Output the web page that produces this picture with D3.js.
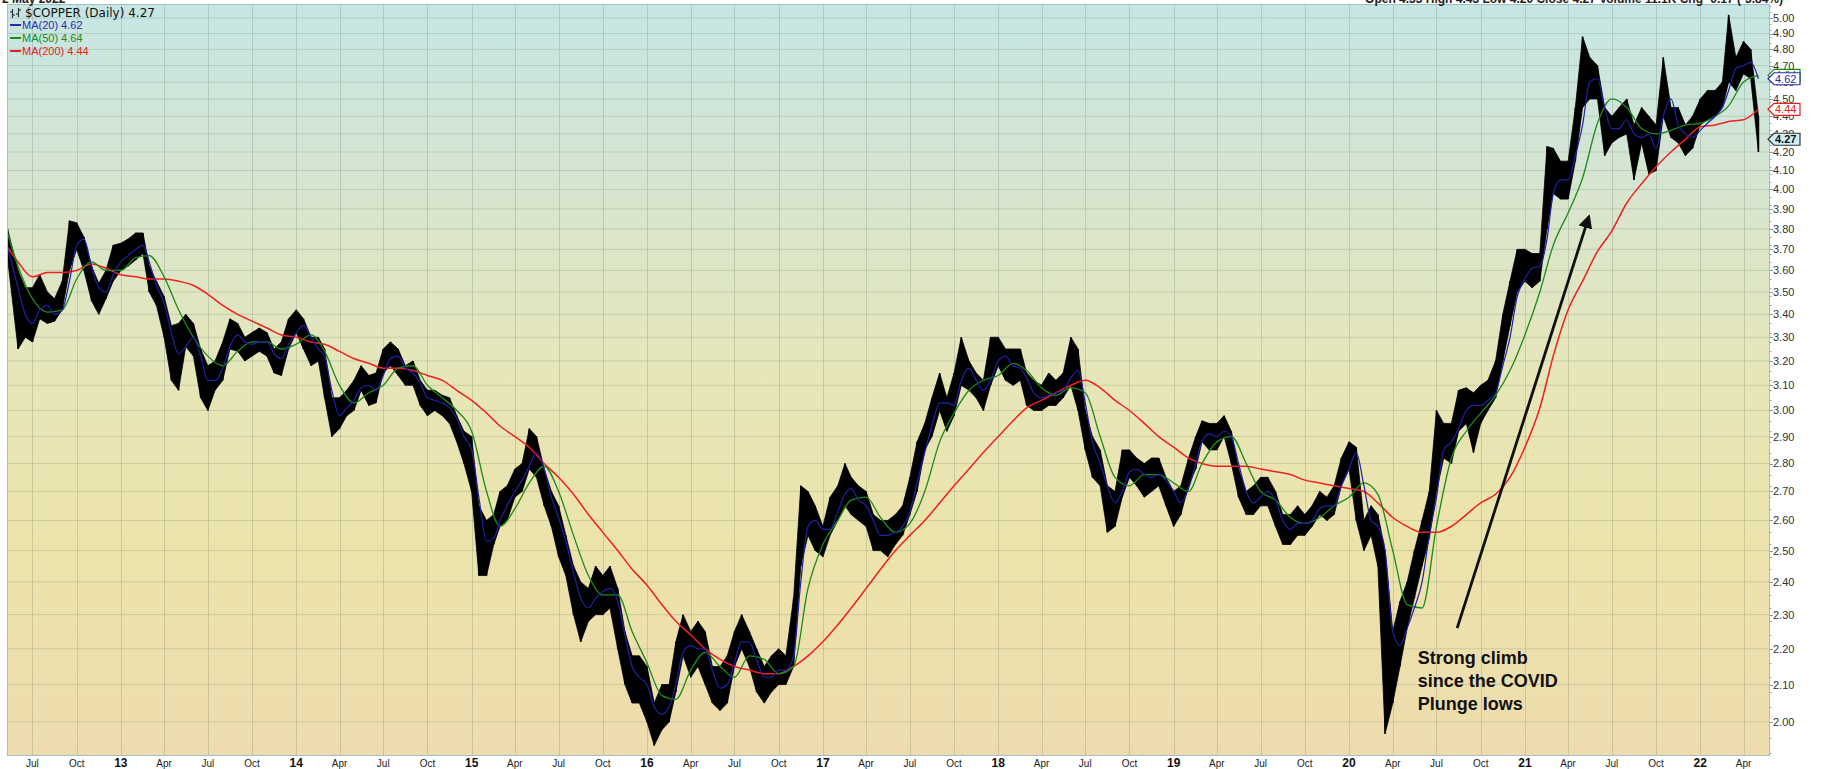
<!DOCTYPE html>
<meta charset="utf-8">
<html>
<head>
<title>$COPPER (Daily)</title>
<script src="https://d3js.org/d3.v7.min.js"></script>
<style>
body { margin: 0; background: #fff; }
svg { display: block; }
.ylab { font: 11px "Liberation Sans", Arial, sans-serif; fill: #333; }
.xlab { font: 10px "Liberation Sans", Arial, sans-serif; fill: #222; }
.xlab.year { font-weight: bold; font-size: 12px; fill: #111; }
.title { font: 12px "DejaVu Sans", Verdana, sans-serif; fill: #111; }
.legend { font: 11px "Liberation Sans", Arial, sans-serif; }
.note { font: bold 18px "Liberation Sans", Arial, sans-serif; fill: #111; }
.head { font: bold 12px "Liberation Sans", Arial, sans-serif; fill: #222; }
</style>
</head>
<body>
<svg width="1827" height="769"></svg>
<script>

// ---- data (half-month samples: high / low of the bars) ----
var halfDates = [
  "2012-05-10","2012-06-01","2012-06-16","2012-07-01","2012-07-16","2012-08-01","2012-08-16","2012-09-01","2012-09-16","2012-10-01","2012-10-16","2012-11-01","2012-11-16","2012-12-01","2012-12-16",
  "2013-01-01","2013-01-16","2013-02-01","2013-02-16","2013-03-01","2013-03-16","2013-04-01","2013-04-16","2013-05-01","2013-05-16","2013-06-01","2013-06-16","2013-07-01","2013-07-16","2013-08-01","2013-08-16","2013-09-01","2013-09-16","2013-10-01","2013-10-16","2013-11-01","2013-11-16","2013-12-01","2013-12-16",
  "2014-01-01","2014-01-16","2014-02-01","2014-02-16","2014-03-01","2014-03-16","2014-04-01","2014-04-16","2014-05-01","2014-05-16","2014-06-01","2014-06-16","2014-07-01","2014-07-16","2014-08-01","2014-08-16","2014-09-01","2014-09-16","2014-10-01","2014-10-16","2014-11-01","2014-11-16","2014-12-01","2014-12-16",
  "2015-01-01","2015-01-16","2015-02-01","2015-02-16","2015-03-01","2015-03-16","2015-04-01","2015-04-16","2015-05-01","2015-05-16","2015-06-01","2015-06-16","2015-07-01","2015-07-16","2015-08-01","2015-08-16","2015-09-01","2015-09-16","2015-10-01","2015-10-16","2015-11-01","2015-11-16","2015-12-01","2015-12-16",
  "2016-01-01","2016-01-16","2016-02-01","2016-02-16","2016-03-01","2016-03-16","2016-04-01","2016-04-16","2016-05-01","2016-05-16","2016-06-01","2016-06-16","2016-07-01","2016-07-16","2016-08-01","2016-08-16","2016-09-01","2016-09-16","2016-10-01","2016-10-16","2016-11-01","2016-11-16","2016-12-01","2016-12-16",
  "2017-01-01","2017-01-16","2017-02-01","2017-02-16","2017-03-01","2017-03-16","2017-04-01","2017-04-16","2017-05-01","2017-05-16","2017-06-01","2017-06-16","2017-07-01","2017-07-16","2017-08-01","2017-08-16","2017-09-01","2017-09-16","2017-10-01","2017-10-16","2017-11-01","2017-11-16","2017-12-01","2017-12-16",
  "2018-01-01","2018-01-16","2018-02-01","2018-02-16","2018-03-01","2018-03-16","2018-04-01","2018-04-16","2018-05-01","2018-05-16","2018-06-01","2018-06-16","2018-07-01","2018-07-16","2018-08-01","2018-08-16","2018-09-01","2018-09-16","2018-10-01","2018-10-16","2018-11-01","2018-11-16","2018-12-01","2018-12-16",
  "2019-01-01","2019-01-16","2019-02-01","2019-02-16","2019-03-01","2019-03-16","2019-04-01","2019-04-16","2019-05-01","2019-05-16","2019-06-01","2019-06-16","2019-07-01","2019-07-16","2019-08-01","2019-08-16","2019-09-01","2019-09-16","2019-10-01","2019-10-16","2019-11-01","2019-11-16","2019-12-01","2019-12-16",
  "2020-01-01","2020-01-16","2020-02-01","2020-02-16","2020-03-01","2020-03-16","2020-04-01","2020-04-16","2020-05-01","2020-05-16","2020-06-01","2020-06-16","2020-07-01","2020-07-16","2020-08-01","2020-08-16","2020-09-01","2020-09-16","2020-10-01","2020-10-16","2020-11-01","2020-11-16","2020-12-01","2020-12-16",
  "2021-01-01","2021-01-16","2021-02-01","2021-02-16","2021-03-01","2021-03-16","2021-04-01","2021-04-16","2021-05-01","2021-05-16","2021-06-01","2021-06-16","2021-07-01","2021-07-16","2021-08-01","2021-08-16","2021-09-01","2021-09-16","2021-10-01","2021-10-16","2021-11-01","2021-11-16","2021-12-01","2021-12-16",
  "2022-01-01","2022-01-16","2022-02-01","2022-02-16","2022-03-01","2022-03-16","2022-04-01","2022-04-16","2022-05-02"
];

var priceHigh = [
  3.80,3.60,3.52,3.52,3.58,3.50,3.47,3.55,3.84,3.83,3.76,3.62,3.54,3.60,3.72,
  3.73,3.75,3.78,3.78,3.62,3.55,3.48,3.35,3.36,3.40,3.36,3.25,3.18,3.20,3.28,3.38,3.36,3.30,3.32,3.34,3.32,3.25,3.28,3.38,
  3.42,3.38,3.30,3.30,3.25,3.05,3.05,3.08,3.12,3.18,3.14,3.15,3.25,3.28,3.25,3.18,3.20,3.12,3.08,3.08,3.06,3.05,2.98,2.92,
  2.90,2.65,2.60,2.62,2.70,2.72,2.78,2.80,2.93,2.90,2.78,2.70,2.65,2.55,2.45,2.40,2.38,2.45,2.42,2.45,2.38,2.25,2.18,2.18,
  2.15,2.05,2.10,2.10,2.22,2.30,2.25,2.28,2.25,2.15,2.15,2.18,2.25,2.30,2.25,2.20,2.15,2.18,2.20,2.18,2.35,2.72,2.70,2.65,
  2.58,2.68,2.72,2.80,2.75,2.72,2.70,2.62,2.60,2.60,2.62,2.65,2.75,2.88,2.95,3.05,3.15,3.05,3.15,3.30,3.20,3.15,3.12,3.30,
  3.30,3.25,3.25,3.25,3.15,3.12,3.10,3.15,3.12,3.15,3.30,3.25,3.00,2.90,2.85,2.72,2.70,2.85,2.85,2.82,2.80,2.82,2.82,2.75,
  2.70,2.72,2.82,2.90,2.96,2.95,2.95,2.98,2.92,2.78,2.70,2.72,2.75,2.75,2.70,2.62,2.62,2.65,2.62,2.65,2.70,2.68,2.72,2.82,
  2.88,2.86,2.60,2.65,2.62,2.50,2.25,2.34,2.40,2.50,2.60,2.70,3.00,2.95,2.95,3.08,3.09,3.07,3.10,3.12,3.20,3.40,3.55,3.70,
  3.70,3.68,3.68,4.23,4.22,4.15,4.15,4.45,4.88,4.75,4.70,4.45,4.40,4.45,4.50,4.35,4.45,4.40,4.35,4.75,4.45,4.45,4.35,4.40,
  4.50,4.55,4.55,4.60,5.02,4.75,4.85,4.80,4.40
];

var priceLow = [
  3.66,3.25,3.30,3.28,3.38,3.36,3.37,3.42,3.60,3.70,3.60,3.46,3.40,3.47,3.55,
  3.60,3.62,3.65,3.68,3.50,3.44,3.30,3.12,3.08,3.26,3.22,3.05,3.00,3.08,3.12,3.25,3.24,3.20,3.22,3.24,3.22,3.15,3.14,3.25,
  3.32,3.25,3.18,3.20,3.05,2.90,2.93,2.98,3.00,3.08,3.02,3.03,3.15,3.18,3.14,3.10,3.10,3.02,2.98,3.00,2.98,2.95,2.88,2.80,
  2.70,2.42,2.42,2.52,2.58,2.60,2.68,2.70,2.78,2.75,2.65,2.58,2.48,2.42,2.30,2.22,2.28,2.30,2.30,2.32,2.20,2.10,2.05,2.05,
  2.00,1.94,1.98,2.00,2.08,2.18,2.12,2.15,2.10,2.05,2.03,2.05,2.15,2.20,2.15,2.08,2.05,2.08,2.10,2.10,2.15,2.45,2.55,2.50,
  2.48,2.55,2.60,2.65,2.62,2.60,2.58,2.50,2.50,2.48,2.52,2.55,2.62,2.70,2.85,2.90,3.00,2.92,2.98,3.10,3.08,3.05,3.00,3.10,
  3.18,3.12,3.10,3.12,3.02,3.00,3.00,3.02,3.02,3.05,3.10,3.00,2.85,2.75,2.72,2.56,2.58,2.68,2.75,2.72,2.68,2.70,2.72,2.65,
  2.58,2.62,2.72,2.78,2.88,2.85,2.85,2.90,2.80,2.68,2.62,2.62,2.65,2.65,2.58,2.52,2.52,2.55,2.55,2.58,2.62,2.60,2.62,2.72,
  2.78,2.60,2.50,2.55,2.45,1.97,2.05,2.15,2.26,2.35,2.45,2.54,2.70,2.82,2.80,2.92,2.95,2.84,2.95,3.00,3.05,3.20,3.35,3.50,
  3.55,3.52,3.55,3.80,3.98,3.95,3.95,4.15,4.45,4.50,4.50,4.18,4.25,4.28,4.30,4.05,4.25,4.08,4.10,4.40,4.28,4.25,4.18,4.22,
  4.35,4.38,4.40,4.45,4.60,4.55,4.65,4.62,4.20
];

var ma20 = [
  3.71,3.52,3.40,3.36,3.42,3.44,3.40,3.42,3.55,3.72,3.75,3.62,3.52,3.50,3.58,
  3.64,3.67,3.70,3.72,3.64,3.53,3.45,3.32,3.23,3.26,3.30,3.22,3.12,3.12,3.17,3.26,3.31,3.28,3.27,3.28,3.28,3.23,3.21,3.27,
  3.32,3.35,3.30,3.25,3.22,3.08,2.98,3.01,3.04,3.09,3.10,3.08,3.14,3.21,3.22,3.17,3.15,3.11,3.05,3.04,3.03,3.01,2.97,2.90,
  2.85,2.68,2.53,2.54,2.60,2.65,2.70,2.74,2.79,2.84,2.78,2.68,2.61,2.53,2.43,2.35,2.32,2.35,2.37,2.38,2.34,2.24,2.15,2.12,
  2.10,2.04,2.02,2.04,2.10,2.19,2.21,2.20,2.20,2.14,2.09,2.10,2.16,2.22,2.22,2.17,2.12,2.12,2.14,2.14,2.18,2.40,2.58,2.60,
  2.57,2.57,2.63,2.69,2.71,2.67,2.65,2.60,2.55,2.55,2.56,2.58,2.63,2.73,2.84,2.94,3.03,3.03,3.02,3.12,3.17,3.12,3.08,3.12,
  3.20,3.22,3.18,3.17,3.13,3.07,3.05,3.06,3.07,3.08,3.13,3.16,3.03,2.88,2.80,2.72,2.66,2.70,2.77,2.78,2.76,2.75,2.76,2.74,
  2.70,2.66,2.71,2.80,2.88,2.91,2.90,2.92,2.90,2.80,2.70,2.66,2.68,2.70,2.67,2.60,2.57,2.59,2.59,2.60,2.64,2.65,2.65,2.72,
  2.78,2.84,2.72,2.60,2.58,2.50,2.25,2.21,2.26,2.32,2.40,2.55,2.68,2.85,2.88,2.93,3.00,3.02,3.02,3.04,3.07,3.18,3.30,3.48,
  3.56,3.61,3.62,3.75,3.98,4.05,4.05,4.18,4.35,4.60,4.62,4.45,4.33,4.33,4.38,4.30,4.28,4.30,4.22,4.40,4.50,4.35,4.30,4.28,
  4.32,4.36,4.40,4.45,4.55,4.68,4.70,4.72,4.62
];

// month samples for the slower averages
var monthDates = [
  "2012-05-10","2012-06-01","2012-07-01","2012-08-01","2012-09-01","2012-10-01","2012-11-01","2012-12-01",
  "2013-01-01","2013-02-01","2013-03-01","2013-04-01","2013-05-01","2013-06-01","2013-07-01","2013-08-01","2013-09-01","2013-10-01","2013-11-01","2013-12-01",
  "2014-01-01","2014-02-01","2014-03-01","2014-04-01","2014-05-01","2014-06-01","2014-07-01","2014-08-01","2014-09-01","2014-10-01","2014-11-01","2014-12-01",
  "2015-01-01","2015-02-01","2015-03-01","2015-04-01","2015-05-01","2015-06-01","2015-07-01","2015-08-01","2015-09-01","2015-10-01","2015-11-01","2015-12-01",
  "2016-01-01","2016-02-01","2016-03-01","2016-04-01","2016-05-01","2016-06-01","2016-07-01","2016-08-01","2016-09-01","2016-10-01","2016-11-01","2016-12-01",
  "2017-01-01","2017-02-01","2017-03-01","2017-04-01","2017-05-01","2017-06-01","2017-07-01","2017-08-01","2017-09-01","2017-10-01","2017-11-01","2017-12-01",
  "2018-01-01","2018-02-01","2018-03-01","2018-04-01","2018-05-01","2018-06-01","2018-07-01","2018-08-01","2018-09-01","2018-10-01","2018-11-01","2018-12-01",
  "2019-01-01","2019-02-01","2019-03-01","2019-04-01","2019-05-01","2019-06-01","2019-07-01","2019-08-01","2019-09-01","2019-10-01","2019-11-01","2019-12-01",
  "2020-01-01","2020-02-01","2020-03-01","2020-04-01","2020-05-01","2020-06-01","2020-07-01","2020-08-01","2020-09-01","2020-10-01","2020-11-01","2020-12-01",
  "2021-01-01","2021-02-01","2021-03-01","2021-04-01","2021-05-01","2021-06-01","2021-07-01","2021-08-01","2021-09-01","2021-10-01","2021-11-01","2021-12-01",
  "2022-01-01","2022-02-01","2022-03-01","2022-04-01","2022-05-02"
];

var ma50 = [
  3.78,3.62,3.47,3.41,3.42,3.56,3.64,3.60,
  3.60,3.66,3.67,3.57,3.42,3.30,3.22,3.18,3.24,3.28,3.28,3.25,
  3.27,3.31,3.24,3.10,3.03,3.07,3.10,3.17,3.18,3.10,3.05,3.00,
  2.92,2.70,2.58,2.64,2.73,2.79,2.70,2.55,2.42,2.36,2.36,2.25,
  2.16,2.07,2.06,2.14,2.19,2.15,2.12,2.18,2.17,2.13,2.15,2.38,
  2.52,2.60,2.67,2.68,2.61,2.56,2.59,2.70,2.88,2.99,3.08,3.12,
  3.14,3.19,3.16,3.09,3.06,3.09,3.07,2.90,2.75,2.72,2.76,2.76,
  2.73,2.70,2.80,2.88,2.90,2.80,2.70,2.67,2.61,2.59,2.61,2.65,
  2.68,2.73,2.69,2.50,2.33,2.32,2.58,2.82,2.92,2.99,3.06,3.16,
  3.31,3.50,3.72,3.88,4.06,4.36,4.50,4.45,4.33,4.30,4.32,4.35,
  4.36,4.40,4.46,4.60,4.64
];

var ma200 = [
  3.71,3.64,3.57,3.59,3.59,3.60,3.63,3.61,
  3.58,3.57,3.56,3.56,3.55,3.53,3.49,3.44,3.40,3.37,3.34,3.31,
  3.30,3.28,3.27,3.24,3.21,3.19,3.17,3.17,3.16,3.14,3.12,3.08,
  3.04,2.99,2.94,2.90,2.86,2.80,2.75,2.69,2.62,2.56,2.50,2.44,
  2.39,2.33,2.28,2.24,2.20,2.17,2.15,2.14,2.13,2.13,2.15,2.18,
  2.22,2.27,2.32,2.38,2.44,2.50,2.55,2.60,2.66,2.72,2.78,2.84,
  2.90,2.96,3.01,3.04,3.07,3.10,3.12,3.09,3.04,3.00,2.95,2.90,
  2.86,2.82,2.80,2.79,2.79,2.79,2.78,2.77,2.76,2.74,2.73,2.72,
  2.71,2.70,2.66,2.61,2.58,2.56,2.56,2.58,2.62,2.66,2.69,2.75,
  2.86,3.01,3.22,3.42,3.55,3.69,3.79,3.93,4.03,4.12,4.20,4.27,
  4.34,4.35,4.37,4.38,4.44
];

var yTickValues = [2.0,2.1,2.2,2.3,2.4,2.5,2.6,2.7,2.8,2.9,3.0,3.1,3.2,3.3,3.4,3.5,3.6,3.7,3.8,3.9,
                   4.0,4.1,4.2,4.3,4.4,4.5,4.6,4.7,4.8,4.9,5.0];
var monthNames = ["Jan","Feb","Mar","Apr","May","Jun","Jul","Aug","Sep","Oct","Nov","Dec"];

var lastClose = 4.27;
var noteLines = ["Strong climb", "since the COVID", "Plunge lows"];
var noteAt = { date: "2020-05-23", value: 2.157 };
var arrowFrom = { date: "2020-08-13", value: 2.26 };
var arrowTo = { date: "2021-05-14", value: 3.86 };

// ---- layout ----
var svg = d3.select("svg"),
    plotL = 7, plotR = 1769, plotT = 4, plotB = 755;

var parse = d3.utcParse("%Y-%m-%d");

var x = d3.scaleUtc()
    .domain([new Date(Date.UTC(2012, 4, 9)), new Date(Date.UTC(2022, 4, 24))])
    .range([plotL, plotR]);

var y = d3.scaleLog()
    .domain([1.916, 5.092])
    .range([plotB, plotT]);

var bars = halfDates.map(function(d, i) {
  return { date: parse(d), hi: priceHigh[i], lo: priceLow[i], ma: ma20[i] };
});
var months = monthDates.map(function(d, i) {
  return { date: parse(d), ma50: ma50[i], ma200: ma200[i] };
});

// background gradient
var defs = svg.append("defs");
var grad = defs.append("linearGradient")
    .attr("id", "bg").attr("x1", 0).attr("y1", 0).attr("x2", 0).attr("y2", 1);
[[0, "#c6e6e4"], [0.25, "#d7e5cf"], [0.5, "#e7e6b8"], [0.72, "#ece3ab"], [1, "#eedcae"]]
  .forEach(function(s) { grad.append("stop").attr("offset", s[0]).attr("stop-color", s[1]); });

defs.append("clipPath").attr("id", "plotclip")
  .append("rect").attr("x", plotL).attr("y", plotT)
  .attr("width", plotR - plotL).attr("height", plotB - plotT);

defs.append("marker")
    .attr("id", "arrowhead")
    .attr("viewBox", "0 0 10 10")
    .attr("refX", 8).attr("refY", 5)
    .attr("markerWidth", 5).attr("markerHeight", 5)
    .attr("markerUnits", "strokeWidth")
    .attr("orient", "auto")
  .append("path")
    .attr("d", "M0,0 L10,5 L0,10 z")
    .attr("fill", "#111");

svg.append("rect")
    .attr("x", plotL).attr("y", plotT)
    .attr("width", plotR - plotL).attr("height", plotB - plotT)
    .attr("fill", "url(#bg)");

// grid
var quarters = d3.utcMonth.every(3).range(x.domain()[0], x.domain()[1]);
var grid = svg.append("g").attr("clip-path", "url(#plotclip)");
grid.selectAll("line.h")
    .data(yTickValues)
    .enter().append("line")
    .attr("x1", plotL).attr("x2", plotR)
    .attr("y1", function(d) { return y(d); })
    .attr("y2", function(d) { return y(d); })
    .attr("stroke", "rgba(95,125,105,0.22)")
    .attr("stroke-width", 1);
grid.selectAll("line.v")
    .data(quarters)
    .enter().append("line")
    .attr("y1", plotT).attr("y2", plotB)
    .attr("x1", function(d) { return Math.round(x(d)) + 0.5; })
    .attr("x2", function(d) { return Math.round(x(d)) + 0.5; })
    .attr("stroke", "rgba(95,125,105,0.25)")
    .attr("stroke-width", 1);

// price bars
var plot = svg.append("g").attr("clip-path", "url(#plotclip)");

var band = d3.area()
    .x(function(d) { return x(d.date); })
    .y0(function(d) { return y(d.lo); })
    .y1(function(d) { return y(d.hi); });

plot.append("path")
    .datum(bars)
    .attr("d", band)
    .attr("fill", "#000")
    .attr("stroke", "#000")
    .attr("stroke-width", 0.8);

plot.selectAll("line.bar")
    .data(bars)
    .enter().append("line")
    .attr("x1", function(d) { return x(d.date); })
    .attr("x2", function(d) { return x(d.date); })
    .attr("y1", function(d) { return y(d.hi); })
    .attr("y2", function(d) { return y(d.lo); })
    .attr("stroke", "#000")
    .attr("stroke-width", 1.6);

// moving averages
var lineMa20 = d3.line().curve(d3.curveMonotoneX)
    .x(function(d) { return x(d.date); }).y(function(d) { return y(d.ma); });
var lineMa50 = d3.line().curve(d3.curveMonotoneX)
    .x(function(d) { return x(d.date); }).y(function(d) { return y(d.ma50); });
var lineMa200 = d3.line().curve(d3.curveMonotoneX)
    .x(function(d) { return x(d.date); }).y(function(d) { return y(d.ma200); });

plot.append("path").datum(months).attr("d", lineMa200)
    .attr("fill", "none").attr("stroke", "#f02020").attr("stroke-width", 1.5);
plot.append("path").datum(months).attr("d", lineMa50)
    .attr("fill", "none").attr("stroke", "#1a8a1a").attr("stroke-width", 1.3);
plot.append("path").datum(bars).attr("d", lineMa20)
    .attr("fill", "none").attr("stroke", "#1f1fa8").attr("stroke-width", 1.2);

// frame
svg.append("rect")
    .attr("x", plotL + 0.5).attr("y", plotT + 0.5)
    .attr("width", plotR - plotL).attr("height", plotB - plotT)
    .attr("fill", "none").attr("stroke", "#a4bfc5").attr("stroke-width", 1);

// right axis: minor + major ticks and labels
var minor = d3.range(96, 255, 2).map(function(d) { return d / 50; })
    .filter(function(v) { return v > 1.916 && v < 5.092; });
svg.selectAll("line.minor")
    .data(minor)
    .enter().append("line")
    .attr("x1", plotR + 0.5).attr("x2", plotR + 2.5)
    .attr("y1", function(d) { return Math.round(y(d)) + 0.5; })
    .attr("y2", function(d) { return Math.round(y(d)) + 0.5; })
    .attr("stroke", "#8fb0b8").attr("stroke-width", 1);
svg.selectAll("line.major")
    .data(yTickValues)
    .enter().append("line")
    .attr("x1", plotR + 0.5).attr("x2", plotR + 4)
    .attr("y1", function(d) { return Math.round(y(d)) + 0.5; })
    .attr("y2", function(d) { return Math.round(y(d)) + 0.5; })
    .attr("stroke", "#7d9ea6").attr("stroke-width", 1);
svg.selectAll("text.ylab")
    .data(yTickValues)
    .enter().append("text")
    .attr("class", "ylab")
    .attr("x", plotR + 4)
    .attr("y", function(d) { return y(d); })
    .attr("dy", "0.36em")
    .text(function(d) { return d3.format(".2f")(d); });

// bottom axis labels
svg.selectAll("text.xlab")
    .data(quarters)
    .enter().append("text")
    .attr("class", function(d) { return d.getUTCMonth() === 0 ? "xlab year" : "xlab"; })
    .attr("x", function(d) { return x(d); })
    .attr("y", 767)
    .attr("text-anchor", "middle")
    .text(function(d) {
      return d.getUTCMonth() === 0 ? d3.utcFormat("%y")(d) : monthNames[d.getUTCMonth()];
    });

// value tags on the right edge
function tag(v, stroke, fill, color, bold) {
  var ty = y(v), g = svg.append("g");
  g.append("path")
    .attr("d", "M" + (plotR - 1) + "," + ty + " L" + (plotR + 5) + "," + (ty - 6) +
               " L" + (plotR + 31) + "," + (ty - 6) + " L" + (plotR + 31) + "," + (ty + 6) +
               " L" + (plotR + 5) + "," + (ty + 6) + " Z")
    .attr("fill", fill).attr("stroke", stroke).attr("stroke-width", 1.2);
  g.append("text")
    .attr("x", plotR + 6).attr("y", ty).attr("dy", "0.36em")
    .attr("class", "ylab")
    .style("fill", color)
    .style("font-weight", bold ? "bold" : "normal")
    .text(d3.format(".2f")(v));
}
tag(ma50[ma50.length - 1], "#1a8a1a", "#fff", "#1a8a1a", false);
tag(ma20[ma20.length - 1], "#2a2ab0", "#fff", "#2a2ab0", false);
tag(ma200[ma200.length - 1], "#e82020", "#fff", "#e82020", false);
tag(lastClose, "#333", "#cdeff8", "#111", true);

// header texts (cut by the top edge, as in the original)
svg.append("text").attr("class", "head").attr("x", 2).attr("y", 2.5).text("2 May 2022");
svg.append("text").attr("class", "head").attr("x", 1783).attr("y", 2.5)
    .attr("text-anchor", "end")
    .text("Open 4.33  High 4.43  Low 4.20  Close 4.27  Volume 11.1K  Chg -0.17 (-3.84%)");

// title + legend
var icon = svg.append("g").attr("stroke", "#333").attr("stroke-width", 1.2);
icon.append("line").attr("x1", 12.5).attr("x2", 12.5).attr("y1", 9).attr("y2", 18);
icon.append("line").attr("x1", 10).attr("x2", 12.5).attr("y1", 12).attr("y2", 12);
icon.append("line").attr("x1", 12.5).attr("x2", 15).attr("y1", 15).attr("y2", 15);
icon.append("line").attr("x1", 18.5).attr("x2", 18.5).attr("y1", 8).attr("y2", 17);
icon.append("line").attr("x1", 16).attr("x2", 18.5).attr("y1", 14).attr("y2", 14);
icon.append("line").attr("x1", 18.5).attr("x2", 21).attr("y1", 10).attr("y2", 10);

svg.append("text").attr("class", "title").attr("x", 25).attr("y", 17)
    .text("$COPPER (Daily) " + d3.format(".2f")(lastClose));

var legend = [
  { name: "MA(20)", value: ma20[ma20.length - 1], color: "#2a2ab0" },
  { name: "MA(50)", value: ma50[ma50.length - 1], color: "#1a8a1a" },
  { name: "MA(200)", value: ma200[ma200.length - 1], color: "#e82020" }
];
var lg = svg.selectAll("g.lg").data(legend).enter().append("g")
    .attr("transform", function(d, i) { return "translate(10," + (29 + i * 13) + ")"; });
lg.append("line").attr("x1", 0).attr("x2", 11).attr("y1", -4).attr("y2", -4)
    .attr("stroke", function(d) { return d.color; }).attr("stroke-width", 2);
lg.append("text").attr("class", "legend").attr("x", 12)
    .style("fill", function(d) { return d.color; })
    .text(function(d) { return d.name + " " + d3.format(".2f")(d.value); });

// annotation
svg.append("line")
    .attr("x1", x(parse(arrowFrom.date))).attr("y1", y(arrowFrom.value))
    .attr("x2", x(parse(arrowTo.date))).attr("y2", y(arrowTo.value))
    .attr("stroke", "#111").attr("stroke-width", 2.8)
    .attr("marker-end", "url(#arrowhead)");

var note = svg.append("text").attr("class", "note")
    .attr("x", x(parse(noteAt.date))).attr("y", y(noteAt.value));
note.selectAll("tspan").data(noteLines).enter().append("tspan")
    .attr("x", x(parse(noteAt.date)))
    .attr("dy", function(d, i) { return i === 0 ? 0 : 23; })
    .text(function(d) { return d; });

</script>
</body>
</html>
